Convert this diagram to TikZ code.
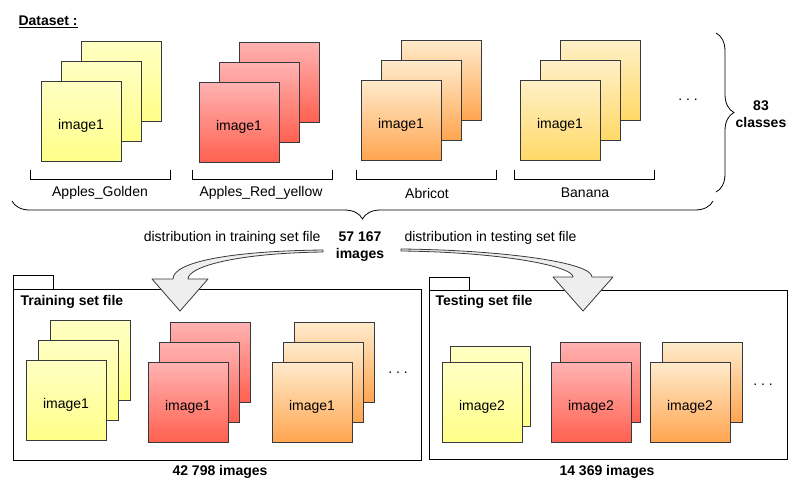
\documentclass[tikz,border=0pt]{standalone}
\usepackage{fontspec}
\setmainfont{Liberation Sans}
\usetikzlibrary{decorations.pathreplacing}
\definecolor{boxline}{HTML}{36393D}
\definecolor{goldtop}{HTML}{FFFFC4}
\definecolor{goldbot}{HTML}{FFFF88}
\definecolor{redtop}{HTML}{FFB3B3}
\definecolor{redbot}{HTML}{FF6150}
\definecolor{abritop}{HTML}{FFEBCC}
\definecolor{abribot}{HTML}{FFA550}
\definecolor{banatop}{HTML}{FFF0C8}
\definecolor{banabot}{HTML}{FFD966}
\definecolor{arrowfill}{HTML}{EEEEEE}
\newcommand\imgstack[8]{%
  \foreach \k in {#6,...,1}
    \node[imgbox,#7] (#1-\k) at ({#2+\k*#4},{#3-\k*#5}) {};
  \node[imgbox,#7,text height=17pt,text depth=0pt] (#1) at (#2,#3) {#8};}

\begin{document}
\begin{tikzpicture}[x=1pt,y=-1pt,font=\fontsize{14}{17}\selectfont,
  imgbox/.style={draw=boxline,line width=1pt,minimum width=80pt,minimum height=80pt,inner sep=0pt},
  golden/.style={top color=goldtop,bottom color=goldbot},
  redyellow/.style={top color=redtop,bottom color=redbot},
  abricot/.style={top color=abritop,bottom color=abribot},
  banana/.style={top color=banatop,bottom color=banabot},
  bigarrow/.style={draw=boxline,fill=arrowfill,line width=0.8pt,line join=round},
  curly/.style={decorate,decoration={brace,amplitude=18pt},line width=0.8pt}]
\useasboundingbox (0,0) rectangle (811,491);
\node[anchor=west,font=\fontsize{14}{17}\selectfont\bfseries] (dataset) at (15,22) {\underline{Dataset :}};
\imgstack{golden1}{81}{121}{20}{20}{2}{golden}{image1}
\imgstack{redyellow1}{239}{122}{20}{20}{2}{redyellow}{image1}
\imgstack{abricot1}{401}{120}{20}{20}{2}{abricot}{image1}
\imgstack{banana1}{560}{120}{20}{20}{2}{banana}{image1}
\node (more) at (688,100) {.~.~.};
\draw[line width=0.8pt] (30,170) -- (30,179) -- (170,179) -- (170,170);
\draw[line width=0.8pt] (192,170) -- (192,179) -- (332,179) -- (332,170);
\draw[line width=0.8pt] (356,170) -- (356,179) -- (496,179) -- (496,170);
\draw[line width=0.8pt] (514,170) -- (514,179) -- (654,179) -- (654,170);
\node (lgolden) at (100,193) {Apples\_Golden};
\node (lred) at (261,193) {Apples\_Red\_yellow};
\node (labricot) at (427,193) {Abricot};
\node (lbanana) at (585,193) {Banana};
\draw[curly] (716,33) -- (716,192);
\node[align=center,font=\fontsize{14}{17}\selectfont\bfseries] (classes) at (761,114) {83\\classes};
\draw[curly] (713,201) -- (12,201);
\node[anchor=east] (totrain) at (324,238) {distribution in training set file};
\node[align=center,font=\fontsize{14}{17}\selectfont\bfseries] (total) at (360,247) {57 167\\images};
\node[anchor=west] (totest) at (401,238) {distribution in testing set file};
\draw[line width=0.8pt] (13,289) rectangle (421,460);
\draw[line width=0.8pt] (13,275) rectangle (53,289);
\node[anchor=west,font=\fontsize{14}{17}\selectfont\bfseries] (train) at (17,302) {Training set file};
\imgstack{golden2}{66}{400}{12}{20}{2}{golden}{image1}
\imgstack{redyellow2}{188}{402}{11}{20}{2}{redyellow}{image1}
\imgstack{abricot2}{312}{402}{11}{20}{2}{abricot}{image1}
\node (moretrain) at (398,373) {.~.~.};
\node[font=\fontsize{14}{17}\selectfont\bfseries] (ntrain) at (220,472) {42 798 images};
\draw[line width=0.8pt] (429,290) rectangle (787,459);
\draw[line width=0.8pt] (429,277) rectangle (469,290);
\node[anchor=west,font=\fontsize{14}{17}\selectfont\bfseries] (test) at (432,302) {Testing set file};
\imgstack{golden3}{482}{402}{8}{16}{1}{golden}{image2}
\imgstack{redyellow3}{591}{402}{9}{20}{1}{redyellow}{image2}
\imgstack{abricot3}{690}{402}{12}{20}{1}{abricot}{image2}
\node (moretest) at (763,385) {.~.~.};
\node[font=\fontsize{14}{17}\selectfont\bfseries] (ntest) at (607,472) {14 369 images};
\draw[bigarrow] (323,250) .. controls (230,251) and (173,262) .. (173,279) -- (152,279) -- (180,311) -- (208,279) -- (188,279) .. controls (188,266) and (240,253) .. (323,252) -- cycle;
\draw[bigarrow] (401,249) .. controls (500,250) and (592,262) .. (592,277) -- (613,277) -- (583,311) -- (553,277) -- (573,277) .. controls (573,266) and (500,252) .. (401,251) -- cycle;
\end{tikzpicture}
\end{document}
